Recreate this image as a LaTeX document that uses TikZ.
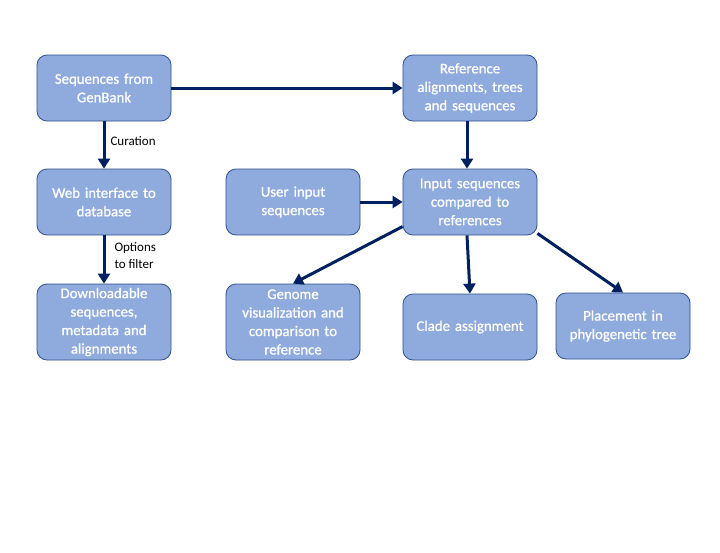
\documentclass[tikz,border=0pt]{standalone}
\usepackage{fontspec}
\setmainfont{Carlito}
\newfontfamily\boxfont[FakeBold=0.8]{Carlito}
\usetikzlibrary{arrows.meta}
\definecolor{boxfill}{HTML}{8FAADC}
\definecolor{boxline}{HTML}{2F528F}
\definecolor{arrowc}{HTML}{002060}
\begin{document}
\begin{tikzpicture}[x=1pt,y=-1pt,
 box/.style={draw=boxline, fill=boxfill, line width=0.8pt, rounded corners=10pt,
   minimum width=134pt, minimum height=66pt, text=white, align=center,
   font=\boxfont\fontsize{14.8}{18.5}\selectfont, inner sep=2pt, text width=130pt},
 conn/.style={draw=arrowc, line width=3pt, -{Triangle[length=10pt,width=12pt]}},
 lab/.style={font=\fontsize{13}{17}\selectfont, align=left, anchor=west, text=black}]
\useasboundingbox (0,0) rectangle (720,552);
\fill[white] (0,0) rectangle (720,552);
\node[box] (A) at (104,88) {Sequences from\\GenBank};
\node[box] (B) at (470,88) {Reference\\alignments, trees\\and sequences};
\node[box] (C) at (104,202) {Web interface to\\database};
\node[box] (D) at (293,202) {User input\\sequences};
\node[box] (E) at (470,202) {Input sequences\\compared to\\references};
\node[box, minimum height=76pt] (F) at (104,322) {Downloadable\\sequences,\\metadata and\\alignments};
\node[box, minimum height=76pt] (G) at (293,322) {Genome\\visualization and\\comparison to\\reference};
\node[box] (H) at (470,327) {Clade assignment};
\node[box] (I) at (623,326) {Placement in\\phylogenetic tree};
\draw[conn] (A.east) -- (B.west);
\draw[conn] (A.south) -- (C.north);
\draw[conn] (C.south) -- (F.north);
\draw[conn] ([xshift=-3pt]B.south) -- ([xshift=-3pt]E.north);
\draw[conn] (D.east) -- (E.west);
\draw[conn] (E.200) -- (G.north);
\draw[conn] ([xshift=-3pt]E.south) -- (H.north);
\draw[conn] (E.335) -- (I.north);
\node[lab] (L1) at (107,141) {Curation};
\node[lab] (L2) at (111,256) {Options\\to filter};
\end{tikzpicture}
\end{document}
